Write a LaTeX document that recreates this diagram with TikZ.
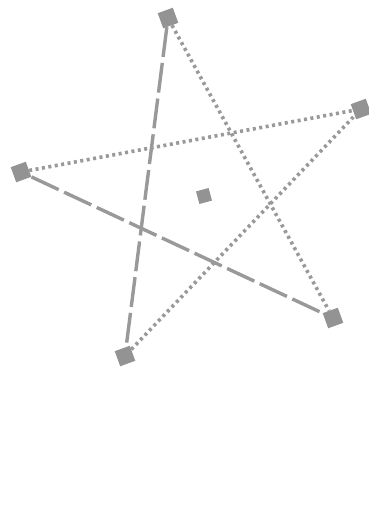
\documentclass[tikz,border=0pt]{standalone}
\begin{document}
\begin{tikzpicture}[x=1pt,y=-1pt,
  vtx/.style={draw=none,fill=gray!85,minimum size=16pt,inner sep=0pt,rotate=20},
  dotline/.style={draw=gray!80,line width=3.6pt,dash pattern=on 3pt off 3.5pt},
  dashline/.style={draw=gray!80,line width=3.4pt,dash pattern=on 30pt off 6pt}]
\useasboundingbox (0,0) rectangle (369,517);
\fill[white] (0,0) rectangle (369,517);
\node[vtx] (T) at (168,18) {};
\node[vtx] (R) at (361,109) {};
\node[vtx] (L) at (21,172) {};
\node[vtx] (BR) at (333,318) {};
\node[vtx] (BL) at (125,356) {};
\node[vtx,minimum size=13pt,rotate=-5] (C) at (204,196) {};
\draw[dotline] (T) -- (BR);
\draw[dotline] (L) -- (R);
\draw[dotline] (BL) -- (R);
\draw[dashline] (T) -- (BL);
\draw[dashline] (L) -- (BR);
\end{tikzpicture}
\end{document}
